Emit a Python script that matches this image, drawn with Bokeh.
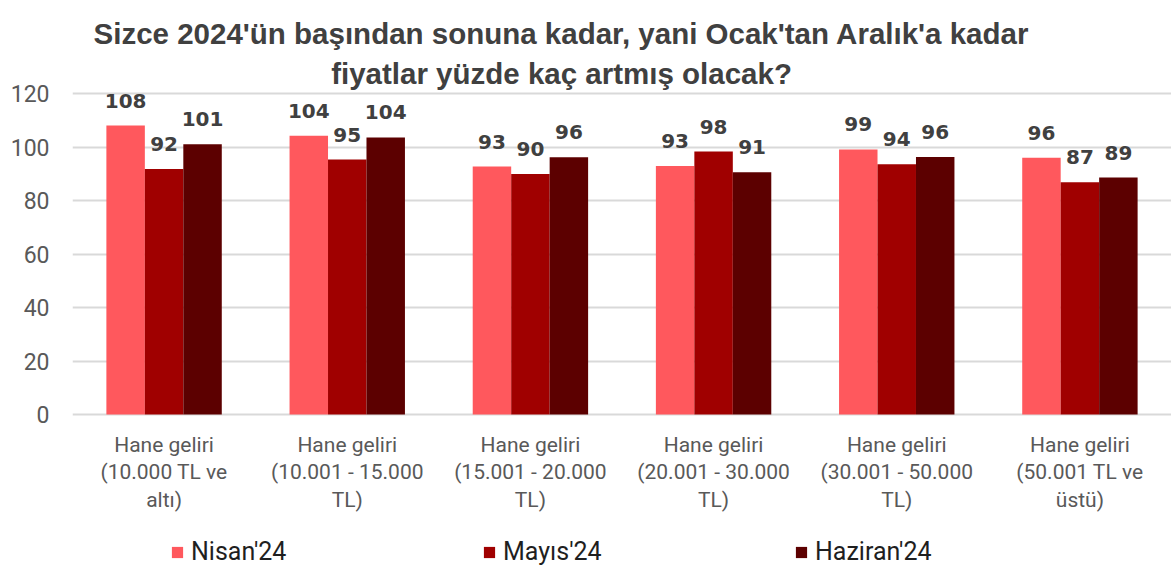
from bokeh.plotting import figure
from bokeh.layouts import column
from bokeh.models import ColumnDataSource, FixedTicker, Legend, LegendItem, Label, Range1d
from bokeh.transform import dodge
from bokeh.core.properties import value
from bokeh.embed import file_html
from bokeh.resources import INLINE

categories = [
    "Hane geliri\n(10.000 TL ve\naltı)",
    "Hane geliri\n(10.001 - 15.000\nTL)",
    "Hane geliri\n(15.001 - 20.000\nTL)",
    "Hane geliri\n(20.001 - 30.000\nTL)",
    "Hane geliri\n(30.001 - 50.000\nTL)",
    "Hane geliri\n(50.001 TL ve\nüstü)",
]
series = ["Nisan'24", "Mayıs'24", "Haziran'24"]
nisan = [108.0, 104.2, 92.7, 92.9, 99.1, 96.0]
mayis = [91.8, 95.3, 89.9, 98.3, 93.6, 86.8]
haziran = [101.0, 103.6, 96.2, 90.6, 96.3, 88.6]
y_ticks = [0, 20, 40, 60, 80, 100, 120]
colors = ["#FF585D", "#A00000", "#5C0000"]
title_lines = ["Sizce 2024'ün başından sonuna kadar, yani Ocak'tan Aralık'a kadar",
               "fiyatlar yüzde kaç artmış olacak?"]

xs = list(range(len(categories)))
data = {"x": xs, "s0": nisan, "s1": mayis, "s2": haziran}
for i, vals in enumerate([nisan, mayis, haziran]):
    data["l%d" % i] = [str(int(round(v))) for v in vals]
src = ColumnDataSource(data)

H1 = 518
p = figure(width=1171, height=H1, output_backend="svg", toolbar_location=None,
           x_range=Range1d(-0.5, len(categories) - 0.5),
           y_range=Range1d(-1.495, 154.77),
           min_border_left=72, min_border_right=0, min_border_top=0, min_border_bottom=H1 - 418)
p.outline_line_color = None
p.background_fill_color = "white"
p.xgrid.grid_line_color = None
p.ygrid.grid_line_color = "#D9D9D9"
p.ygrid.grid_line_width = 2
p.ygrid.ticker = FixedTicker(ticks=y_ticks)

bw = 0.21
offs = [-bw, 0.0, bw]
for i in range(3):
    p.vbar(x=dodge("x", offs[i], range=p.x_range), top="s%d" % i, width=bw,
           bottom=0, source=src, fill_color=colors[i], line_color=None)
    p.text(x=dodge("x", offs[i], range=p.x_range), y="s%d" % i, text="l%d" % i, source=src,
           text_align="center", text_baseline="alphabetic", y_offset=-25,
           text_font=value("DejaVu Sans"), text_font_style="bold",
           text_font_size="20px", text_color="#404040")

# axes
p.yaxis.ticker = FixedTicker(ticks=y_ticks)
p.yaxis.axis_line_color = None
p.yaxis.major_tick_line_color = None
p.yaxis.minor_tick_line_color = None
p.yaxis.major_label_text_font = "Roboto"
p.yaxis.major_label_text_font_size = "23px"
p.yaxis.major_label_text_color = "#595959"
p.yaxis.major_label_standoff = 17

p.xaxis.ticker = FixedTicker(ticks=xs)
p.xaxis.major_label_overrides = {i: c for i, c in enumerate(categories)}
p.xaxis.axis_line_color = None
p.xaxis.major_tick_line_color = None
p.xaxis.minor_tick_line_color = None
p.xaxis.major_label_text_font = "Roboto"
p.xaxis.major_label_text_font_size = "21px"
p.xaxis.major_label_text_color = "#595959"
p.xaxis.major_label_text_line_height = 1.15
p.xaxis.major_label_standoff = 8

# title
for txt, yy in zip(title_lines, [142.43, 127.48]):
    p.add_layout(Label(x=2.17, y=yy, text=txt, text_align="center", text_baseline="alphabetic",
                       text_font="Liberation Sans", text_font_style="bold", text_font_size="29.5px",
                       text_color="#404040"))

# legend strip (its zero-width bars lie outside its own visible range; only the legend shows)
H2 = 567 - H1
pl = figure(width=1171, height=H2, output_backend="svg", toolbar_location=None,
            x_range=Range1d(-0.5, len(categories) - 0.5), y_range=Range1d(-1000, -999),
            x_axis_type=None, y_axis_type=None,
            min_border_left=0, min_border_right=0, min_border_top=0, min_border_bottom=0)
pl.outline_line_color = None
pl.xgrid.grid_line_color = None
pl.ygrid.grid_line_color = None
leg_r = [pl.vbar(x="x", top="s%d" % i, bottom=0, width=0, source=src,
                 fill_color=colors[i], line_color=None) for i in range(3)]

legend = Legend(items=[LegendItem(label=series[i], renderers=[leg_r[i]]) for i in range(3)],
                orientation="horizontal", location=(98, 1),
                glyph_width=14, glyph_height=14, label_standoff=7, label_width=260,
                label_height=28, spacing=31, padding=0, margin=0,
                label_text_font="Roboto", label_text_font_size="25px",
                label_text_color="#1F1F1F",
                border_line_color=None, background_fill_alpha=0)
pl.add_layout(legend, "center")

layout = column(p, pl, spacing=0)
open("out.html", "w").write(file_html(layout, INLINE))
